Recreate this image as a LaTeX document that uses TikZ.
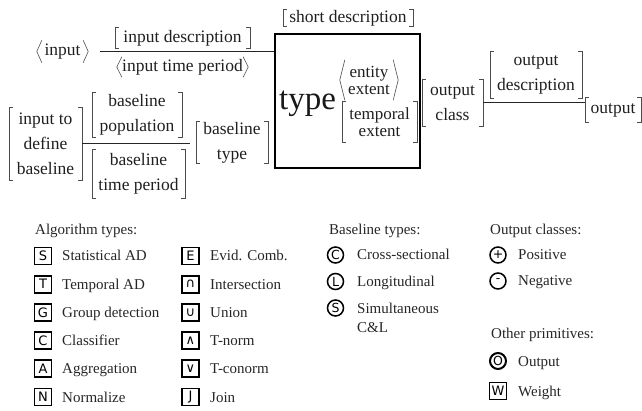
\documentclass[tikz,border=0pt]{standalone}
\usepackage{fontspec}
\setmainfont{Liberation Serif}
\newfontfamily\iconfont{DejaVu Sans}
\begin{document}
\begin{tikzpicture}[x=1pt,y=-1pt,
 txt/.style={font=\fontsize{17.5}{25}\selectfont, inner sep=0pt, align=center, text=black!88},
 sm/.style={font=\fontsize{17}{17}\selectfont, inner sep=0pt, align=center, text=black!88},
 brk/.style={draw=black!70, line width=0.6pt},
 conn/.style={draw=black!85, line width=1pt},
 lg/.style={font=\fontsize{15}{18}\selectfont, inner sep=0pt, anchor=base west, text=black!85},
 sq/.style={draw, line width=1.7pt, minimum width=17pt, minimum height=17pt, inner sep=0pt, font=\iconfont\fontsize{13}{13}\selectfont},
 cc/.style={draw, circle, line width=1.5pt, minimum size=16pt, inner sep=0pt, font=\iconfont\fontsize{12.5}{12.5}\selectfont},
]
\useasboundingbox (0,0) rectangle (642,411);

% ---- main diagram ----
\node[draw, line width=1.1pt, minimum width=145, minimum height=134, inner sep=0pt] (box) at (347.5,101) {};
\node[font=\fontsize{33}{33}\selectfont, anchor=base, inner sep=0pt, text=black!90] (type) at (307.5,110) {type};

\node[txt, minimum width=51, minimum height=22] (inp) at (62.5,51.5) {input};
\node[txt, minimum width=135, minimum height=20] (indesc) at (182.5,38) {input description};
\node[txt, minimum width=131, minimum height=20] (intime) at (182.5,67) {input time period};
\node[txt, minimum width=130, minimum height=17] (shortdesc) at (348,18) {short description};

\node[sm, minimum width=58, minimum height=40] (ent) at (369,80) {entity\\extent};
\node[sm, minimum width=75, minimum height=40] (temp) at (379.5,122) {temporal\\extent};

\node[txt, minimum width=73, minimum height=73] (idb) at (45.5,144) {input to\\define\\baseline};
\node[txt, minimum width=90, minimum height=44] (pop) at (137,115) {baseline\\population};
\node[txt, minimum width=93, minimum height=48] (tper) at (138.5,174) {baseline\\time period};
\node[txt, minimum width=72, minimum height=41] (btype) at (232,142.5) {baseline\\type};

\node[txt, minimum width=61, minimum height=47] (oclass) at (452.5,103) {output\\class};
\node[txt, minimum width=92, minimum height=46] (odesc) at (536,75) {output\\description};
\node[txt, minimum width=56, minimum height=24] (outp) at (613,110) {output};

\foreach \n in {indesc,shortdesc,idb,pop,tper,btype,temp,oclass,odesc,outp}{
  \draw[brk] ([xshift=4pt]\n.north west) -- (\n.north west) -- (\n.south west) -- ([xshift=4pt]\n.south west);
  \draw[brk] ([xshift=-4pt]\n.north east) -- (\n.north east) -- (\n.south east) -- ([xshift=-4pt]\n.south east);
}
\foreach \n in {inp,intime,ent}{
  \draw[brk] ([xshift=5pt]\n.north west) -- (\n.west) -- ([xshift=5pt]\n.south west);
  \draw[brk] ([xshift=-5pt]\n.north east) -- (\n.east) -- ([xshift=-5pt]\n.south east);
}

\draw[conn, shorten <=12pt] (inp.east) -- (inp.east -| box.west);
\draw[conn, shorten >=6pt] (idb.east) -- (idb.east -| btype.west);
\draw[conn] (oclass.east) -- (oclass.east -| outp.west);

% ---- legend ----
\node[lg] (algh) at (35,235) {Algorithm types:};
\foreach \l/\t [count=\i from 0] in {S/Statistical AD, T/Temporal AD, G/Group detection, C/Classifier, A/Aggregation, N/Normalize}{
  \node[sq] (la\i) at (43,{256+28.2*\i}) {\l};
  \node[lg] (lt\i) at (62,{261+28.2*\i}) {\t};
}
\foreach \l/\t [count=\i from 0] in {E/Evid. Comb., ∩/Intersection, ∪/Union, ∧/T-norm, ∨/T-conorm, J/Join}{
  \node[sq] (ra\i) at (190.5,{256+28.2*\i}) {\l};
  \node[lg] (rt\i) at (210,{261+28.2*\i}) {\t};
}

\node[lg] (bth) at (329,235) {Baseline types:};
\node[cc] (bc) at (335.5,255) {C};
\node[lg] (bct) at (357,260) {Cross-sectional};
\node[cc] (bl) at (335.5,281.5) {L};
\node[lg] (blt) at (357,286.5) {Longitudinal};
\node[cc] (bs) at (335.5,308) {S};
\node[lg] (bst) at (357,313) {Simultaneous};
\node[lg] (bst2) at (357,333) {C\&L};

\node[lg] (och) at (490,235) {Output classes:};
\node[cc] (op) at (498,255) {+};
\node[lg] (opt) at (518,260) {Positive};
\node[cc] (on) at (498,281) {-};
\node[lg] (ont) at (518,286) {Negative};

\node[lg] (oph) at (491,338) {Other primitives:};
\node[cc, line width=2pt] (oo) at (498,361) {O};
\node[lg] (oot) at (518,366) {Output};
\node[sq] (ow) at (498,391) {W};
\node[lg] (owt) at (518,396) {Weight};
\end{tikzpicture}
\end{document}
